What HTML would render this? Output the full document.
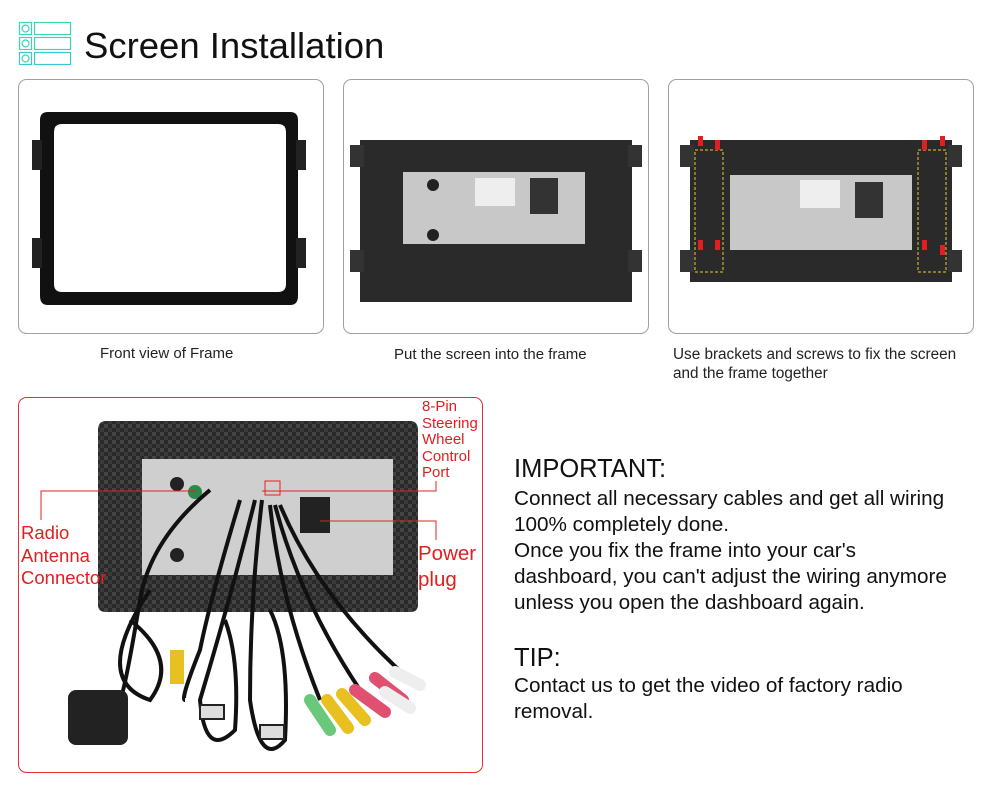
<!DOCTYPE html>
<html><head><meta charset="utf-8"><style>
body{margin:0;width:1000px;height:797px;background:#fff;position:relative;overflow:hidden;font-family:"Liberation Sans",sans-serif}
.t{position:absolute;white-space:nowrap}
</style></head><body>
<svg width="1000" height="797" style="position:absolute;left:0;top:0">
<defs>
<pattern id="cf" width="8" height="8" patternUnits="userSpaceOnUse"><rect width="8" height="8" fill="#2a2a2a"/><rect width="4" height="4" fill="#444"/><rect x="4" y="4" width="4" height="4" fill="#3a3a3a"/></pattern>
</defs>
<g fill="none" stroke="#3cd6b4" stroke-width="1.2">
<rect x="19.5" y="22.5" width="12" height="12"/><circle cx="25.5" cy="28.5" r="3.5"/><rect x="34.5" y="22.5" width="36" height="12"/>
<rect x="19.5" y="37.5" width="12" height="12"/><circle cx="25.5" cy="43.5" r="3.5"/><rect x="34.5" y="37.5" width="36" height="12"/>
<rect x="19.5" y="52.5" width="12" height="12" stroke="#3cc6d4"/><circle cx="25.5" cy="58.5" r="3.5"/><rect x="34.5" y="52.5" width="36" height="12" stroke="#3cc6d4"/>
</g>
<g fill="#fff" stroke="#a0a0a0" stroke-width="1">
<rect x="18.5" y="79.5" width="305" height="254" rx="8"/>
<rect x="343.5" y="79.5" width="305" height="254" rx="8"/>
<rect x="668.5" y="79.5" width="305" height="254" rx="8"/>
</g>
<rect x="18.5" y="397.5" width="464" height="375" rx="8" fill="#fff" stroke="#e03030"/>
<path d="M48 112 H290 Q298 112 298 120 V296 Q298 305 290 305 H48 Q40 305 40 296 V120 Q40 112 48 112 Z M62 124 Q54 124 54 132 V284 Q54 292 62 292 H278 Q286 292 286 284 V132 Q286 124 278 124 Z" fill="#111" fill-rule="evenodd"/>
<rect x="32" y="140" width="10" height="30" fill="#222"/><rect x="32" y="238" width="10" height="30" fill="#222"/>
<rect x="296" y="140" width="10" height="30" fill="#222"/><rect x="296" y="238" width="10" height="30" fill="#222"/>
<rect x="360" y="140" width="272" height="162" fill="#2a2a2a"/>
<rect x="350" y="145" width="14" height="22" fill="#333"/><rect x="350" y="250" width="14" height="22" fill="#333"/>
<rect x="628" y="145" width="14" height="22" fill="#333"/><rect x="628" y="250" width="14" height="22" fill="#333"/>
<rect x="403" y="172" width="182" height="72" fill="#c8c8c8"/>
<rect x="475" y="178" width="40" height="28" fill="#eee"/><rect x="530" y="178" width="28" height="36" fill="#333"/>
<circle cx="433" cy="185" r="6" fill="#222"/><circle cx="433" cy="235" r="6" fill="#222"/>
<rect x="690" y="140" width="262" height="142" fill="#2a2a2a"/>
<rect x="680" y="145" width="14" height="22" fill="#333"/><rect x="680" y="250" width="14" height="22" fill="#333"/>
<rect x="948" y="145" width="14" height="22" fill="#333"/><rect x="948" y="250" width="14" height="22" fill="#333"/>
<rect x="730" y="175" width="182" height="75" fill="#c8c8c8"/>
<rect x="800" y="180" width="40" height="28" fill="#eee"/><rect x="855" y="182" width="28" height="36" fill="#333"/>
<rect x="695" y="150" width="28" height="122" fill="none" stroke="#e8d030" stroke-dasharray="3 2"/>
<rect x="918" y="150" width="28" height="122" fill="none" stroke="#e8d030" stroke-dasharray="3 2"/>
<g fill="#e02020"><rect x="698" y="136" width="5" height="10"/><rect x="715" y="140" width="5" height="10"/><rect x="922" y="140" width="5" height="10"/><rect x="940" y="136" width="5" height="10"/><rect x="698" y="240" width="5" height="10"/><rect x="922" y="240" width="5" height="10"/><rect x="940" y="245" width="5" height="10"/><rect x="715" y="240" width="5" height="10"/></g>
<path d="M106 421 H410 Q418 421 418 430 V605 Q418 612 410 612 H106 Q98 612 98 605 V430 Q98 421 106 421 Z" fill="url(#cf)"/>
<rect x="142" y="459" width="251" height="116" fill="#cfcfcf"/>
<rect x="300" y="497" width="30" height="36" fill="#222"/>
<circle cx="177" cy="484" r="7" fill="#222"/><circle cx="177" cy="555" r="7" fill="#222"/><circle cx="195" cy="492" r="7" fill="#2a8a4a"/>
<g fill="none" stroke="#111" stroke-width="4">
<path d="M210 490 Q150 540 140 600 Q125 690 120 700"/>
<path d="M240 500 Q210 600 200 650 Q180 700 185 700"/>
<path d="M255 500 Q230 600 200 700 Q205 760 235 730 Q240 660 225 620"/>
<path d="M262 500 Q250 600 250 700 Q260 770 285 740 Q290 650 270 610"/>
<path d="M270 505 Q280 600 320 700"/><path d="M275 505 Q300 600 360 690"/><path d="M280 505 Q320 600 410 680"/>
<path d="M150 590 Q90 680 150 700 Q180 660 130 620"/>
</g>
<rect x="68" y="690" width="60" height="55" rx="8" fill="#222"/>
<rect x="170" y="650" width="14" height="34" fill="#e8c020"/>
<rect x="200" y="705" width="24" height="14" fill="#ddd" stroke="#222" stroke-width="2"/>
<rect x="260" y="725" width="24" height="14" fill="#ddd" stroke="#222" stroke-width="2"/>
<g stroke-width="12" stroke-linecap="round">
<line x1="310" y1="700" x2="330" y2="730" stroke="#6ac87a"/>
<line x1="327" y1="700" x2="348" y2="728" stroke="#e8c020"/>
<line x1="342" y1="694" x2="365" y2="720" stroke="#e8c020"/>
<line x1="355" y1="690" x2="385" y2="712" stroke="#e05070"/>
<line x1="375" y1="678" x2="403" y2="700" stroke="#e05070"/>
<line x1="385" y1="692" x2="410" y2="708" stroke="#eee"/>
<line x1="395" y1="672" x2="420" y2="685" stroke="#eee"/>
</g>
<g fill="none" stroke="#e02020" stroke-width="1">
<polyline points="41,520 41,491 196,491"/>
<polyline points="262,491 436,491 436,481"/>
<rect x="265" y="481" width="15" height="14"/>
<polyline points="320,521 436,521 436,540"/>
</g>
</svg>
<div class="t" style="left:84px;top:25px;font-size:36.5px;color:#111">Screen Installation</div>
<div class="t" style="left:100px;top:345px;font-size:15px;color:#222">Front view of Frame</div>
<div class="t" style="left:394px;top:346px;font-size:15px;color:#222">Put the screen into the frame</div>
<div class="t" style="left:673px;top:345px;font-size:15.3px;line-height:19px;color:#222">Use brackets and screws to fix the screen<br>and the frame together</div>
<div class="t" style="left:422px;top:399px;font-size:15px;line-height:16.5px;color:#e02020">8-Pin<br>Steering<br>Wheel<br>Control<br>Port</div>
<div class="t" style="left:21px;top:522px;font-size:18.5px;line-height:22.5px;color:#e02020">Radio<br>Antenna<br>Connector</div>
<div class="t" style="left:418px;top:541px;font-size:20.5px;line-height:26px;color:#e02020">Power<br>plug</div>
<div class="t" style="left:514px;top:455px;font-size:25.5px;color:#111">IMPORTANT:</div>
<div class="t" style="left:514px;top:486px;font-size:20.7px;line-height:26px;color:#111">Connect all necessary cables and get all wiring<br>100% completely done.<br>Once you fix the frame into your car's<br>dashboard, you can't adjust the wiring anymore<br>unless you open the dashboard again.</div>
<div class="t" style="left:514px;top:644px;font-size:25.5px;color:#111">TIP:</div>
<div class="t" style="left:514px;top:673px;font-size:20.7px;line-height:26px;color:#111">Contact us to get the video of factory radio<br>removal.</div>
</body></html>
